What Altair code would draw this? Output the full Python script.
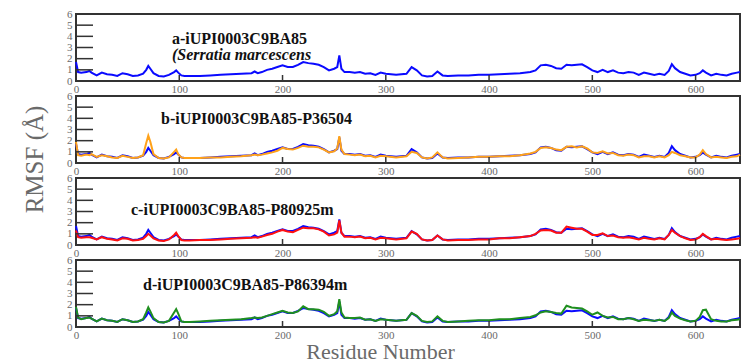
import altair as alt
import pandas as pd

# ---------------- data ----------------
residues = [
    0, 2, 5, 10, 13, 15, 20, 25, 30, 35,
    40, 45, 50, 55, 60, 65, 68, 70, 72, 75,
    80, 85, 90, 95, 97, 99, 102, 105, 110, 120,
    130, 140, 150, 160, 170, 173, 176, 180, 185, 190,
    195, 200, 205, 210, 215, 220, 225, 230, 235, 240,
    245, 250, 253, 255, 257, 260, 265, 270, 275, 280,
    285, 290, 295, 300, 310, 320, 325, 330, 335, 340,
    345, 350, 355, 360, 370, 380, 390, 400, 410, 420,
    430, 440, 445, 450, 455, 460, 465, 470, 475, 480,
    485, 490, 495, 500, 505, 510, 515, 520, 525, 530,
    535, 540, 545, 550, 555, 560, 565, 570, 574, 577,
    580, 585, 590, 595, 600, 604, 607, 610, 615, 620,
    625, 630, 635, 640, 643,
]

blue_rmsf = [
    1.7, 0.8, 0.75, 0.8, 0.9, 0.75, 0.5, 0.75, 0.6, 0.55,
    0.45, 0.7, 0.6, 0.45, 0.5, 0.65, 1.0, 1.35, 1.1, 0.7,
    0.45, 0.4, 0.55, 0.8, 0.95, 0.75, 0.5, 0.45, 0.45, 0.45,
    0.5, 0.55, 0.6, 0.65, 0.7, 0.85, 0.7, 0.8, 1.0, 1.1,
    1.25, 1.4, 1.25, 1.25, 1.45, 1.7, 1.6, 1.55, 1.45, 1.25,
    0.95, 1.1, 1.25, 2.3, 1.1, 0.8, 0.8, 0.75, 0.8, 0.65,
    0.7, 0.55, 0.75, 0.65, 0.55, 0.65, 1.25, 0.95, 0.5, 0.4,
    0.45, 0.85, 0.5, 0.45, 0.5, 0.5, 0.55, 0.55, 0.6, 0.65,
    0.7, 0.8, 0.95, 1.4, 1.45, 1.35, 1.15, 1.1, 1.45, 1.4,
    1.45, 1.5, 1.25, 0.95, 0.8, 1.0, 0.8, 0.95, 0.75, 0.7,
    0.8, 0.75, 0.55, 0.75, 0.65, 0.55, 0.65, 0.55, 0.9, 1.5,
    1.15, 0.8, 0.65, 0.5, 0.55, 0.7, 0.95, 0.75, 0.5, 0.65,
    0.55, 0.5, 0.65, 0.75, 0.8,
]

orange_rmsf = [
    1.9, 0.7, 0.65, 0.75, 0.7, 0.8, 0.55, 0.7, 0.6, 0.5,
    0.45, 0.65, 0.55, 0.45, 0.5, 0.7, 1.8, 2.45, 1.9, 0.8,
    0.45, 0.4, 0.5, 1.0, 1.2, 0.8, 0.5, 0.45, 0.45, 0.45,
    0.5, 0.5, 0.55, 0.6, 0.7, 0.75, 0.7, 0.75, 0.85, 0.95,
    1.1, 1.35, 1.25, 1.2, 1.35, 1.55, 1.45, 1.45, 1.4, 1.2,
    0.95, 1.05, 1.3, 2.4, 1.2, 0.8, 0.75, 0.7, 0.75, 0.6,
    0.65, 0.5, 0.65, 0.6, 0.5, 0.6, 1.0, 0.9, 0.5, 0.4,
    0.5, 0.95, 0.5, 0.4, 0.45, 0.5, 0.55, 0.55, 0.6, 0.6,
    0.7, 0.85, 1.0, 1.35, 1.4, 1.35, 1.2, 1.15, 1.45, 1.5,
    1.4, 1.5, 1.3, 0.95, 0.9, 1.05, 0.85, 0.9, 0.7, 0.65,
    0.75, 0.7, 0.5, 0.6, 0.6, 0.5, 0.6, 0.5, 0.7, 1.0,
    0.9, 0.7, 0.6, 0.5, 0.5, 0.75, 1.15, 0.8, 0.5, 0.55,
    0.5, 0.45, 0.55, 0.6, 0.75,
]

red_rmsf = [
    1.3, 0.7, 0.65, 0.7, 0.7, 0.65, 0.5, 0.7, 0.55, 0.5,
    0.4, 0.6, 0.55, 0.4, 0.45, 0.55, 0.8, 1.0, 0.85, 0.6,
    0.4, 0.35, 0.5, 0.9, 1.1, 0.8, 0.45, 0.4, 0.4, 0.45,
    0.45, 0.5, 0.55, 0.6, 0.65, 0.7, 0.65, 0.75, 0.9, 1.0,
    1.2, 1.35, 1.2, 1.15, 1.35, 1.55, 1.5, 1.5, 1.4, 1.2,
    0.85, 0.95, 1.1, 2.2, 1.1, 0.75, 0.75, 0.7, 0.75, 0.6,
    0.65, 0.5, 0.65, 0.6, 0.5, 0.6, 1.2, 1.0, 0.5, 0.4,
    0.45, 0.85, 0.5, 0.4, 0.45, 0.45, 0.5, 0.5, 0.6, 0.6,
    0.7, 0.8, 1.0, 1.3, 1.35, 1.3, 1.1, 1.1, 1.65, 1.55,
    1.45, 1.45, 1.2, 0.9, 0.9, 1.05, 0.8, 0.85, 0.7, 0.65,
    0.7, 0.6, 0.5, 0.65, 0.55, 0.5, 0.6, 0.5, 0.9, 1.35,
    1.1, 0.8, 0.6, 0.45, 0.5, 0.7, 1.0, 0.8, 0.5, 0.55,
    0.5, 0.45, 0.5, 0.55, 0.6,
]

green_rmsf = [
    1.8, 0.85, 0.7, 0.8, 0.85, 0.75, 0.5, 0.75, 0.6, 0.55,
    0.45, 0.7, 0.6, 0.45, 0.5, 0.7, 1.3, 1.75, 1.4, 0.8,
    0.45, 0.4, 0.55, 1.3, 1.6, 1.2, 0.5, 0.45, 0.45, 0.5,
    0.55, 0.6, 0.65, 0.7, 0.8, 0.85, 0.8, 0.85, 1.0, 1.15,
    1.3, 1.45, 1.3, 1.25, 1.4, 1.85, 1.6, 1.6, 1.55, 1.35,
    1.0, 1.15, 1.4, 2.5, 1.3, 0.85, 0.8, 0.8, 0.85, 0.65,
    0.7, 0.55, 0.7, 0.65, 0.55, 0.65, 1.25, 1.0, 0.55, 0.45,
    0.5, 0.95, 0.55, 0.45, 0.5, 0.55, 0.6, 0.6, 0.7, 0.7,
    0.8, 0.9, 1.05, 1.3, 1.4, 1.35, 1.25, 1.2, 1.9, 1.75,
    1.7, 1.65, 1.4, 1.1, 1.3, 1.0, 0.85, 0.9, 0.7, 0.7,
    0.8, 0.7, 0.55, 0.65, 0.6, 0.55, 0.65, 0.55, 0.8, 1.3,
    1.0, 0.75, 0.6, 0.5, 0.55, 0.9, 1.5, 1.55, 0.7, 0.55,
    0.5, 0.5, 0.6, 0.65, 0.7,
]

panel_labels = [
    "a-iUPI0003C9BA85",
    "b-iUPI0003C9BA85-P36504",
    "c-iUPI0003C9BA85-P80925m",
    "d-iUPI0003C9BA85-P86394m",
]
subtitle_a = "(Serratia marcescens"
x_ticks = [0, 100, 200, 300, 400, 500, 600]
y_ticks = [0, 1, 2, 3, 4, 5, 6]
inner_y_ticks = [1, 2, 3, 4, 5]
inner_x_ticks = [100, 200, 300, 400, 500, 600]

# ---------------- style ----------------
W, H = 664, 67
FONT = "Liberation Serif"
GRAY = "#6a6a6a"
BLUE = "#0a0aff"
COLORS = ["#ffa21a", "#ff1010", "#1f8f1f"]

for arr in (blue_rmsf, orange_rmsf, red_rmsf, green_rmsf):
    assert len(arr) == len(residues)

x_scale = alt.Scale(domain=[0, 643], nice=False, zero=False)
y_scale = alt.Scale(domain=[0, 6], nice=False)


def make_panel(series, label, label_pos, y_title=False, x_title=False, sub=None):
    x_axis_kw = dict(values=x_ticks, labelFont=FONT, labelFontSize=11, labelColor=GRAY,
                     ticks=False, domain=False, grid=False, labelFlush=False, labelPadding=2,
                     labelOverlap=False)
    if x_title:
        x_axis_kw.update(title="Residue Number", titleFont=FONT, titleFontSize=22,
                         titleFontWeight="normal", titleColor=GRAY, titleX=304, titleY=31,
                         titleAlign="center", titleBaseline="alphabetic")
    else:
        x_axis_kw.update(title=None)
    y_axis_kw = dict(values=y_ticks, labelFont=FONT, labelFontSize=11, labelColor=GRAY,
                     ticks=False, domain=False, grid=False, labelFlush=False, labelPadding=4,
                     labelOverlap=False)
    if y_title:
        y_axis_kw.update(title="RMSF (Å)", titleFont=FONT, titleFontSize=25,
                         titleFontWeight="normal", titleColor=GRAY, titleX=-34, titleY=63,
                         titleAngle=-90, titleAlign="center", titleBaseline="alphabetic")
    else:
        y_axis_kw.update(title=None)
    x_axis = alt.Axis(**x_axis_kw)
    y_axis = alt.Axis(**y_axis_kw)

    layers = []
    base_df = pd.DataFrame({"residue": residues, "rmsf": blue_rmsf})
    layers.append(
        alt.Chart(base_df).mark_line(color=BLUE, strokeWidth=2).encode(
            x=alt.X("residue:Q", scale=x_scale, axis=x_axis),
            y=alt.Y("rmsf:Q", scale=y_scale, axis=y_axis),
        )
    )
    if series is not None:
        vals, col = series
        df = pd.DataFrame({"residue": residues, "rmsf": vals})
        layers.append(
            alt.Chart(df).mark_line(color=col, strokeWidth=2).encode(
                x=alt.X("residue:Q", scale=x_scale, axis=x_axis),
                y=alt.Y("rmsf:Q", scale=y_scale, axis=y_axis),
            )
        )
    ytk = pd.DataFrame({"rmsf": inner_y_ticks})
    layers.append(
        alt.Chart(ytk).mark_rule(color="#333333", strokeWidth=1.5).encode(
            y=alt.Y("rmsf:Q", scale=y_scale, axis=y_axis), x=alt.value(0), x2=alt.value(17)
        )
    )
    xtk = pd.DataFrame({"residue": inner_x_ticks})
    layers.append(
        alt.Chart(xtk).mark_rule(color="#333333", strokeWidth=1.5).encode(
            x=alt.X("residue:Q", scale=x_scale, axis=x_axis), y=alt.value(H), y2=alt.value(H - 6)
        )
    )
    lx, ly = label_pos
    layers.append(
        alt.Chart(pd.DataFrame({"t": [label]})).mark_text(
            align="left", baseline="middle", font=FONT, fontWeight="bold", fontSize=16,
            color="#111111"
        ).encode(x=alt.value(lx), y=alt.value(ly), text="t:N")
    )
    if sub is not None:
        layers.append(
            alt.Chart(pd.DataFrame({"t": [sub]})).mark_text(
                align="left", baseline="middle", font=FONT, fontWeight="bold",
                fontStyle="italic", fontSize=16, color="#111111"
            ).encode(x=alt.value(lx), y=alt.value(ly + 16), text="t:N")
        )
    return alt.layer(*layers).properties(width=W, height=H)


pa = make_panel(None, panel_labels[0], (96, 25), sub=subtitle_a)
pb = make_panel((orange_rmsf, COLORS[0]), panel_labels[1], (85, 23), y_title=True)
pc = make_panel((red_rmsf, COLORS[1]), panel_labels[2], (55, 32))
pd_ = make_panel((green_rmsf, COLORS[2]), panel_labels[3], (67, 25), x_title=True)

chart = alt.vconcat(pa, pb, pc, pd_, spacing=15, bounds="flush").properties(
    padding={"left": 12, "top": -1, "right": 0, "bottom": 0}
).configure_view(stroke="#333333", strokeWidth=2)

chart.save("out.html", embed_options={"renderer": "svg", "actions": False})
